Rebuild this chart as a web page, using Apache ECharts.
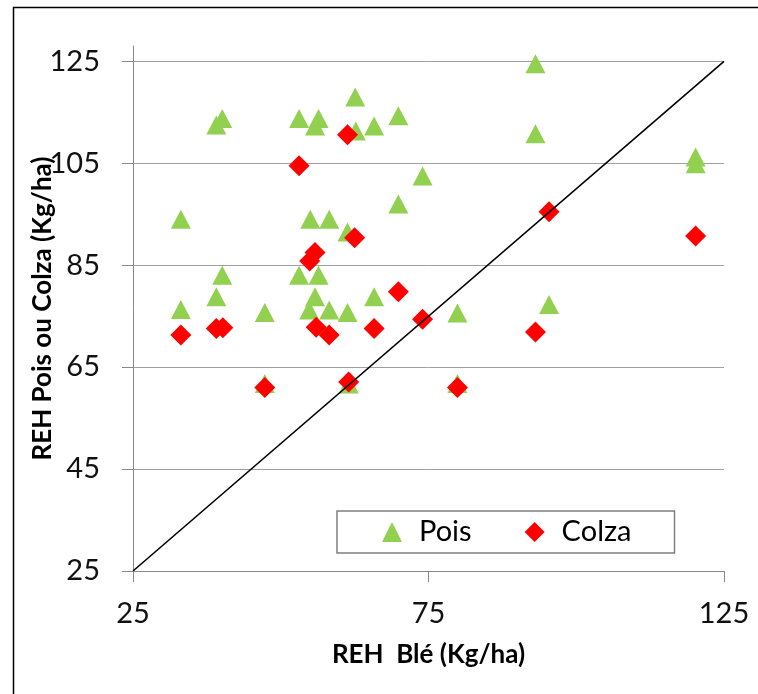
<!DOCTYPE html>
<html>
<head>
<meta charset="utf-8">
<script src="https://cdn.jsdelivr.net/npm/echarts@6/dist/echarts.min.js"></script>
<style>
  html, body { margin: 0; padding: 0; background: #fff; }
  #chart { width: 758px; height: 694px; }
</style>
</head>
<body>
<div id="chart"></div>
<script>
// REH du blé (abscisse) comparé au REH du pois et du colza (ordonnée), en kg/ha
const poisBle = [93.1, 62.6, 40.1, 39.1, 53.1, 56.4, 55.8, 62.7, 65.8, 69.9, 93.1, 120.2, 120.2, 74.0, 69.9, 33.1, 55.0, 58.2, 61.3, 40.1, 53.1, 56.4, 39.1, 55.8, 65.8, 33.1, 54.8, 58.2, 47.3, 61.3, 79.9, 95.4, 47.3, 61.5, 79.9];
const poisReh = [124.5, 118.0, 113.8, 112.5, 113.8, 113.8, 112.3, 111.3, 112.3, 114.3, 110.8, 106.2, 104.9, 102.5, 97.0, 94.0, 94.0, 94.0, 91.5, 83.0, 83.0, 83.0, 78.8, 78.8, 78.8, 76.3, 76.2, 76.2, 75.7, 75.7, 75.6, 77.3, 61.8, 61.7, 61.8];

const colzaBle = [61.3, 53.1, 95.4, 62.5, 120.2, 55.8, 54.9, 69.9, 74.0, 33.1, 39.1, 40.2, 56.0, 58.2, 65.8, 93.1, 47.3, 61.5, 79.9];
const colzaReh = [110.6, 104.5, 95.5, 90.4, 90.7, 87.5, 85.8, 79.8, 74.4, 71.3, 72.6, 72.7, 72.8, 71.3, 72.6, 71.9, 61.0, 62.1, 61.0];

// droite 1:1
const bissectrice = [25, 125];

const xTicks = [25, 75, 125];
const yTicks = [25, 45, 65, 85, 105, 125];

const pairs = (xs, ys) => xs.map((x, i) => [x, ys[i]]);

const FONT = 'Lato';

const chart = echarts.init(document.getElementById('chart'));
chart.setOption({
  animation: false,
  backgroundColor: '#fff',
  graphic: [{
    type: 'rect',
    left: 11, top: 5,
    shape: { width: 800, height: 800 },
    style: { fill: 'none', stroke: '#000', lineWidth: 1.5 },
    silent: true
  }],
  grid: { left: 133, right: 34, top: 46, bottom: 123 },
  xAxis: {
    type: 'value',
    min: 25, max: 125, interval: 50,
    name: 'REH  Blé (Kg/ha)',
    nameLocation: 'middle',
    nameGap: 71,
    nameMoveOverlap: false,
    nameTextStyle: { fontFamily: FONT, fontWeight: 'bold', fontSize: 26, color: '#000' },
    axisLine: { lineStyle: { color: '#888', width: 1 } },
    axisTick: { show: true, inside: false, length: 11, customValues: xTicks, lineStyle: { color: '#888' } },
    axisLabel: { customValues: xTicks, fontFamily: FONT, fontSize: 29, color: '#111', margin: 28 },
    splitLine: { show: false }
  },
  yAxis: {
    type: 'value',
    min: 25, max: 128, interval: 20,
    name: 'REH Pois ou Colza (Kg/ha)',
    nameLocation: 'middle',
    nameGap: 77,
    nameMoveOverlap: false,
    nameTextStyle: { fontFamily: FONT, fontWeight: 'bold', fontSize: 26, color: '#000' },
    axisLine: { show: true, lineStyle: { color: '#888', width: 1 } },
    axisTick: { show: true, inside: false, length: 11, customValues: yTicks, lineStyle: { color: '#888' } },
    axisLabel: { customValues: yTicks, fontFamily: FONT, fontSize: 29, color: '#111', margin: 33 },
    splitLine: { show: true, lineStyle: { color: '#a0a0a0', width: 1 } }
  },
  legend: {
    data: ['Pois', 'Colza'],
    left: 337, top: 511,
    orient: 'horizontal',
    padding: [5, 43, 5, 45],
    itemGap: 53,
    itemWidth: 20, itemHeight: 20,
    borderColor: '#7f7f7f', borderWidth: 1.5,
    textStyle: { fontFamily: FONT, fontSize: 29, color: '#000', padding: [0, 0, 0, 12], lineHeight: 32 }
  },
  series: [
    {
      name: '1:1',
      type: 'line',
      data: pairs(bissectrice, bissectrice),
      showSymbol: false,
      silent: true,
      lineStyle: { color: '#000', width: 1.6 }
    },
    {
      name: 'Pois',
      type: 'scatter',
      symbol: 'triangle',
      symbolSize: [20, 19],
      itemStyle: { color: '#92D050', opacity: 1 },
      data: pairs(poisBle, poisReh)
    },
    {
      name: 'Colza',
      type: 'scatter',
      symbol: 'diamond',
      symbolSize: 21,
      itemStyle: { color: '#FF0000', opacity: 1 },
      data: pairs(colzaBle, colzaReh)
    }
  ]
});
</script>
</body>
</html>
